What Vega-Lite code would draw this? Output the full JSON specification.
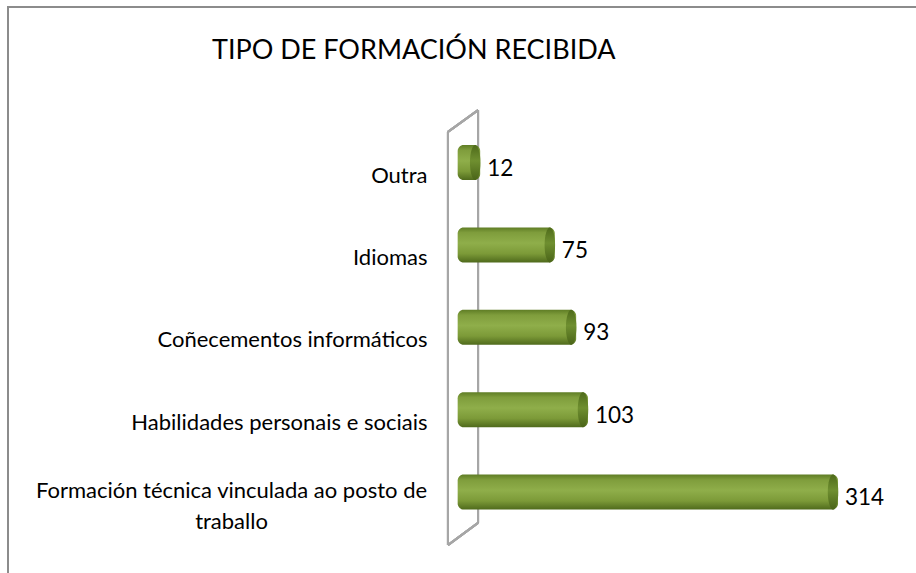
{
  "$schema": "https://vega.github.io/schema/vega-lite/v6.json",
  "autosize": "none",
  "width": 910,
  "height": 570,
  "padding": {"left": 8, "top": 7, "right": 0, "bottom": 0},
  "background": "white",
  "config": {
    "view": {"stroke": "#8c8c8c", "strokeWidth": 2},
    "font": "Lato"
  },
  "title": {
    "text": "TIPO DE FORMACIÓN RECIBIDA",
    "anchor": "start",
    "frame": "group",
    "orient": "top",
    "offset": -79,
    "dx": 204,
    "baseline": "alphabetic",
    "font": "Lato",
    "fontSize": 27,
    "fontWeight": "normal",
    "color": "#000000"
  },
  "data": {
    "values": [
      {"tipo": "Outra", "n": 12},
      {"tipo": "Idiomas", "n": 75},
      {"tipo": "Coñecementos informáticos", "n": 93},
      {"tipo": "Habilidades personais e sociais", "n": 103},
      {"tipo": "Formación técnica vinculada ao posto de traballo", "n": 314}
    ]
  },
  "resolve": {"scale": {"y": "independent"}, "axis": {"y": "independent"}},
  "layer": [
    {
      "layer": [
        {
          "mark": {"type": "rule", "stroke": "#a6a6a6", "strokeWidth": 2},
          "encoding": {
            "x": {"datum": -15.2, "type": "quantitative", "scale": {"domain": [-386.5, 381.5]}, "axis": null},
            "x2": {"datum": 10.2},
            "y": {"datum": 78.1, "type": "quantitative", "scale": {"domain": [0, 100]}, "axis": null},
            "y2": {"datum": 81.9}
          }
        },
        {
          "mark": {"type": "rule", "stroke": "#a6a6a6", "strokeWidth": 2},
          "encoding": {
            "x": {"datum": 10.2, "type": "quantitative", "scale": {"domain": [-386.5, 381.5]}, "axis": null},
            "y": {"datum": 81.9, "type": "quantitative", "scale": {"domain": [0, 100]}, "axis": null},
            "y2": {"datum": 9.5}
          }
        },
        {
          "mark": {"type": "rule", "stroke": "#a6a6a6", "strokeWidth": 2},
          "encoding": {
            "x": {"datum": 10.2, "type": "quantitative", "scale": {"domain": [-386.5, 381.5]}, "axis": null},
            "x2": {"datum": -15.2},
            "y": {"datum": 9.5, "type": "quantitative", "scale": {"domain": [0, 100]}, "axis": null},
            "y2": {"datum": 5.6}
          }
        },
        {
          "mark": {"type": "rule", "stroke": "#a6a6a6", "strokeWidth": 2},
          "encoding": {
            "x": {"datum": -15.2, "type": "quantitative", "scale": {"domain": [-386.5, 381.5]}, "axis": null},
            "y": {"datum": 5.6, "type": "quantitative", "scale": {"domain": [0, 100]}, "axis": null},
            "y2": {"datum": 78.1}
          }
        }
      ]
    },
    {
      "encoding": {
        "y": {
          "field": "tipo",
          "type": "nominal",
          "sort": null,
          "scale": {"range": [138, 502.6], "paddingInner": 0.575, "paddingOuter": 0},
          "axis": {
            "title": null,
            "domain": false,
            "ticks": false,
            "grid": false,
            "offset": -419,
            "labelPadding": {"condition": {"test": "datum.value == 'Formación técnica vinculada ao posto de traballo'", "value": 196}, "value": 0},
            "labelOffset": {"condition": {"test": "datum.value == 'Formación técnica vinculada ao posto de traballo'", "value": -1}, "value": 13},
            "labelFont": "Lato",
            "labelFontSize": 22,
            "labelColor": "#000000",
            "labelLimit": 0,
            "labelLineHeight": 31,
            "labelAlign": {"condition": {"test": "datum.value == 'Formación técnica vinculada ao posto de traballo'", "value": "center"}, "value": "right"},
            "labelBaseline": "middle",
            "labelExpr": "datum.label == 'Formación técnica vinculada ao posto de traballo' ? ['Formación técnica vinculada ao posto de', 'traballo'] : datum.label"
          }
        }
      },
      "layer": [
        {
          "mark": {
            "type": "bar",
            "cornerRadius": 6,
            "fill": {
              "x1": 0, "y1": 0, "x2": 0, "y2": 1,
              "gradient": "linear",
              "stops": [
                {"offset": 0, "color": "#5f7d25"},
                {"offset": 0.15, "color": "#7f9d3c"},
                {"offset": 0.45, "color": "#8fae4a"},
                {"offset": 0.75, "color": "#7c9a38"},
                {"offset": 1, "color": "#4f6a1c"}
              ]
            }
          },
          "encoding": {
            "x": {"field": "n", "type": "quantitative", "scale": {"domain": [-386.5, 381.5]}, "axis": null},
            "x2": {"datum": -7}
          }
        },
        {
          "mark": {
            "type": "point",
            "filled": true,
            "size": 1225,
            "xOffset": -5,
            "shape": "M0,-1 A0.3,1 0 1,1 0,1 A0.3,1 0 1,1 0,-1 Z",
            "opacity": 1,
            "fill": {
              "x1": 0, "y1": 0, "x2": 0, "y2": 1,
              "gradient": "linear",
              "stops": [
                {"offset": 0, "color": "#4e6a1a"},
                {"offset": 0.45, "color": "#6f8f30"},
                {"offset": 1, "color": "#4a6418"}
              ]
            },
            "strokeWidth": 0
          },
          "encoding": {
            "x": {"field": "n", "type": "quantitative", "scale": {"domain": [-386.5, 381.5]}, "axis": null}
          }
        },
        {
          "mark": {
            "type": "text",
            "align": "left",
            "baseline": "middle",
            "dx": 7,
            "dy": 6,
            "font": "Lato",
            "fontSize": 22.5,
            "color": "#000000"
          },
          "encoding": {
            "x": {"field": "n", "type": "quantitative", "scale": {"domain": [-386.5, 381.5]}, "axis": null},
            "text": {"field": "n", "type": "quantitative"}
          }
        }
      ]
    }
  ]
}
